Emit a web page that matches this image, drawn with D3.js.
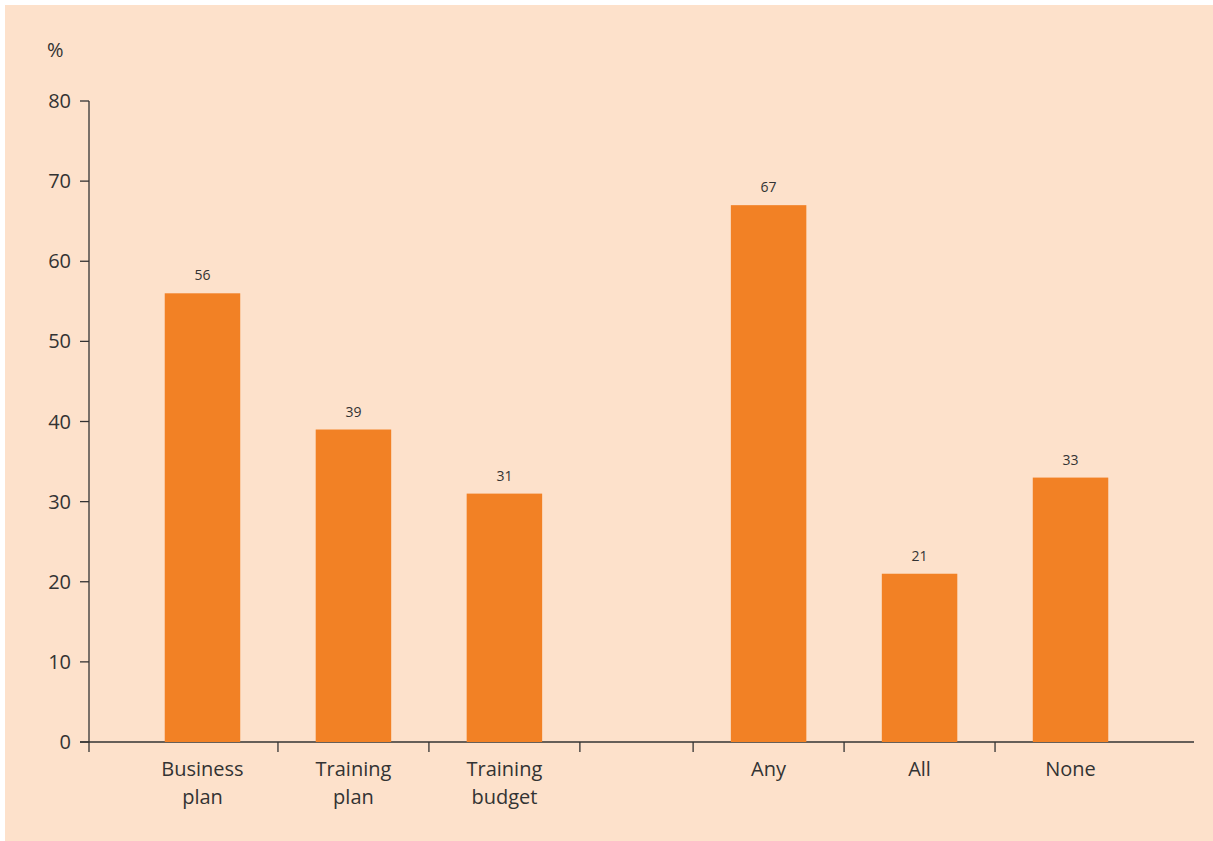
<!DOCTYPE html>
<html>
<head>
<meta charset="utf-8">
<script src="https://cdn.jsdelivr.net/npm/d3@7"></script>
<style>
  html, body { margin: 0; padding: 0; background: #ffffff; }
  svg { display: block; font-family: "Open Sans", "Noto Sans", sans-serif; }
</style>
</head>
<body>
<svg id="chart" width="1213" height="841"></svg>
<script>
// Two groups of categories, separated by a gap on the axis
const groups = ["Plans and budgets", "Training needs"];
const planCategories = ["Business plan", "Training plan", "Training budget"];
const needCategories = ["Any", "All", "None"];
const planValues = [56, 39, 31];
const needValues = [67, 21, 33];
const yTicks = [0, 10, 20, 30, 40, 50, 60, 70, 80];
const yUnit = "%";

const categoryLines = {
  "Business plan": ["Business", "plan"],
  "Training plan": ["Training", "plan"],
  "Training budget": ["Training", "budget"],
  "Any": ["Any"],
  "All": ["All"],
  "None": ["None"]
};

const groupData = [
  { name: groups[0], cats: planCategories, vals: planValues, tickSide: "end" },
  { name: groups[1], cats: needCategories, vals: needValues, tickSide: "start" }
];

const svg = d3.select("#chart");
const ink = "#333333";
const barColor = "#f28125";

// panel background
svg.append("rect")
  .attr("x", 5).attr("y", 5)
  .attr("width", 1208).attr("height", 836)
  .attr("fill", "#fde1cb");

const axisX = 89;
const axisRight = 1194;

const y = d3.scaleLinear().domain([0, 80]).range([742, 101]);

const x0 = d3.scaleBand()
  .domain(groups)
  .range([127, 1146])
  .paddingInner(0.2)
  .paddingOuter(0);

// y axis
const g = svg.append("g");
g.append("line")
  .attr("x1", axisX).attr("x2", axisX)
  .attr("y1", y(80)).attr("y2", y(0) + 10)
  .attr("stroke", ink).attr("stroke-width", 1.3);

g.selectAll(".ytick").data(yTicks).join("line")
  .attr("x1", axisX - 9).attr("x2", axisX)
  .attr("y1", d => y(d)).attr("y2", d => y(d))
  .attr("stroke", ink).attr("stroke-width", 1.3);

g.selectAll(".ylabel").data(yTicks).join("text")
  .attr("x", axisX - 18)
  .attr("y", d => y(d))
  .attr("dy", "0.35em")
  .attr("text-anchor", "end")
  .attr("font-size", 20)
  .attr("fill", ink)
  .text(d => d);

svg.append("text")
  .attr("x", 47).attr("y", 57)
  .attr("font-size", 20)
  .attr("fill", ink)
  .text(yUnit);

// x axis baseline
g.append("line")
  .attr("x1", axisX - 9).attr("x2", axisRight)
  .attr("y1", y(0)).attr("y2", y(0))
  .attr("stroke", ink).attr("stroke-width", 1.3);

groupData.forEach(grp => {
  const x1 = d3.scaleBand()
    .domain(grp.cats)
    .range([x0(grp.name), x0(grp.name) + x0.bandwidth()])
    .padding(0);
  const bw = x1.bandwidth() * 0.5;

  const rows = grp.cats.map((c, i) => ({ cat: c, val: grp.vals[i] }));

  // bars
  svg.selectAll(null).data(rows).join("rect")
    .attr("x", d => x1(d.cat) + (x1.bandwidth() - bw) / 2)
    .attr("y", d => y(d.val))
    .attr("width", bw)
    .attr("height", d => y(0) - y(d.val))
    .attr("fill", barColor);

  // value labels
  svg.selectAll(null).data(rows).join("text")
    .attr("x", d => x1(d.cat) + x1.bandwidth() / 2)
    .attr("y", d => y(d.val) - 13)
    .attr("text-anchor", "middle")
    .attr("font-size", 14)
    .attr("fill", ink)
    .text(d => d.val);

  // tick marks at category boundaries
  const tickXs = grp.cats.map(c =>
    grp.tickSide === "end" ? x1(c) + x1.bandwidth() : x1(c));
  svg.selectAll(null).data(tickXs).join("line")
    .attr("x1", d => d).attr("x2", d => d)
    .attr("y1", y(0)).attr("y2", y(0) + 10)
    .attr("stroke", ink).attr("stroke-width", 1.3);

  // category labels
  const lab = svg.selectAll(null).data(rows).join("text")
    .attr("x", d => x1(d.cat) + x1.bandwidth() / 2)
    .attr("y", 776)
    .attr("text-anchor", "middle")
    .attr("font-size", 20)
    .attr("fill", ink);
  lab.each(function(d) {
    const t = d3.select(this);
    categoryLines[d.cat].forEach((line, i) => {
      t.append("tspan")
        .attr("x", x1(d.cat) + x1.bandwidth() / 2)
        .attr("dy", i === 0 ? 0 : 28)
        .text(line);
    });
  });
});
</script>
</body>
</html>
